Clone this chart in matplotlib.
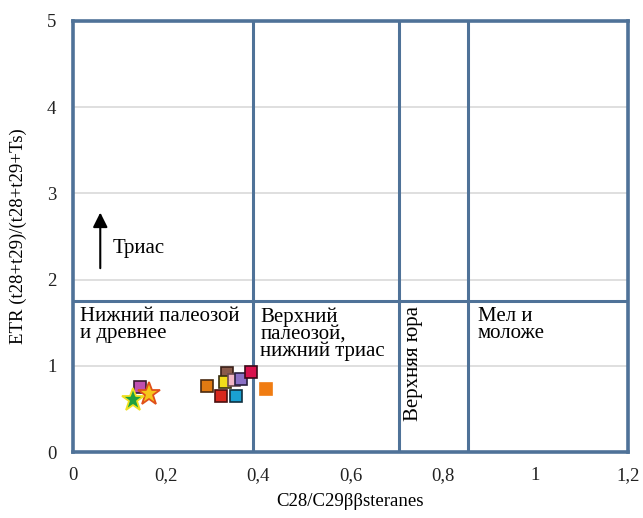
import numpy as np
import matplotlib.pyplot as plt

plt.rcParams['font.family'] = ['Liberation Serif', 'DejaVu Serif']

# Данные: квадраты (образцы)
sq_x = [0.144, 0.290, 0.334, 0.328, 0.349, 0.364, 0.384, 0.321, 0.353, 0.418]
sq_y = [0.75, 0.77, 0.92, 0.81, 0.84, 0.85, 0.93, 0.65, 0.65, 0.73]
sq_fill = ['#c04fb0', '#e07a12', '#8a5a4a', '#f2dc1a', '#f2b6c6', '#8a70c6',
           '#d8124e', '#d8281e', '#1aa0d2', '#f07c12']
sq_edge = ['#3a1a30', '#4a2a10', '#3a2018', '#3a3010', '#6a4a50', '#2a2040',
           '#3a0a18', '#4a1010', '#103040', '#f07c12']

# Звёзды
st_x = [0.164, 0.130]
st_y = [0.67, 0.60]
st_fill = ['#f6c51a', '#1ea040']
st_edge = ['#e0501a', '#f0e020']

# Границы возрастных полей
x_bounds = [0.39, 0.705, 0.855]
y_bound = 1.75

blue = '#4f7298'

fig = plt.figure(figsize=(6.43, 5.18), dpi=100)
ax = fig.add_axes([0.1135, 0.1274, 0.8632, 0.8321])
ax.set_xlim(0, 1.2)
ax.set_ylim(0, 5)

for y in [1, 2, 3, 4]:
    ax.axhline(y, color='#d9d9d9', lw=1.2, zorder=1)
for xb in x_bounds:
    ax.axvline(xb, color=blue, lw=2.2, zorder=2)
ax.axhline(y_bound, color=blue, lw=2.2, zorder=2)

for s in ax.spines.values():
    s.set_color(blue)
    s.set_linewidth(2.6)

ax.set_xticks([0, 0.2, 0.4, 0.6, 0.8, 1, 1.2])
ax.set_xticklabels(['0', '0,2', '0,4', '0,6', '0,8', '1', '1,2'])
ax.set_yticks([0, 1, 2, 3, 4, 5])
ax.tick_params(length=0, labelsize=13.5, colors='#222222')
ax.tick_params(axis='x', pad=11)
ax.tick_params(axis='y', pad=12)

ax.set_xlabel('C28/C29ββsteranes', fontsize=13.5, labelpad=6)
ax.set_ylabel('ETR (t28+t29)/(t28+t29+Ts)', fontsize=13.5, labelpad=14)

for x, y, f, e in zip(sq_x, sq_y, sq_fill, sq_edge):
    ax.plot(x, y, 's', ms=8.5, mfc=f, mec=e, mew=1.2, zorder=4)
for x, y, f, e in zip(st_x, st_y, st_fill, st_edge):
    ax.plot(x, y, '*', ms=17, mfc=f, mec=e, mew=1.3, zorder=5)

# Подписи полей
ax.text(0.015, 1.68, 'Нижний палеозой\nи древнее', fontsize=15, va='top', linespacing=0.85)
ax.text(0.405, 1.68, 'Верхний\nпалеозой,\nнижний триас', fontsize=15, va='top', linespacing=0.85)
ax.text(0.736, 0.36, 'Верхняя юра', fontsize=15, rotation=90, ha='center', va='bottom')
ax.text(0.875, 1.68, 'Мел и\nмоложе', fontsize=15, va='top', linespacing=0.85)

ax.annotate('', xy=(0.059, 2.81), xytext=(0.059, 2.1),
            arrowprops=dict(arrowstyle='-|>', color='black', lw=1.5, mutation_scale=22))
ax.text(0.085, 2.36, 'Триас', fontsize=15, va='center')

fig.savefig('out.png', dpi=100)
